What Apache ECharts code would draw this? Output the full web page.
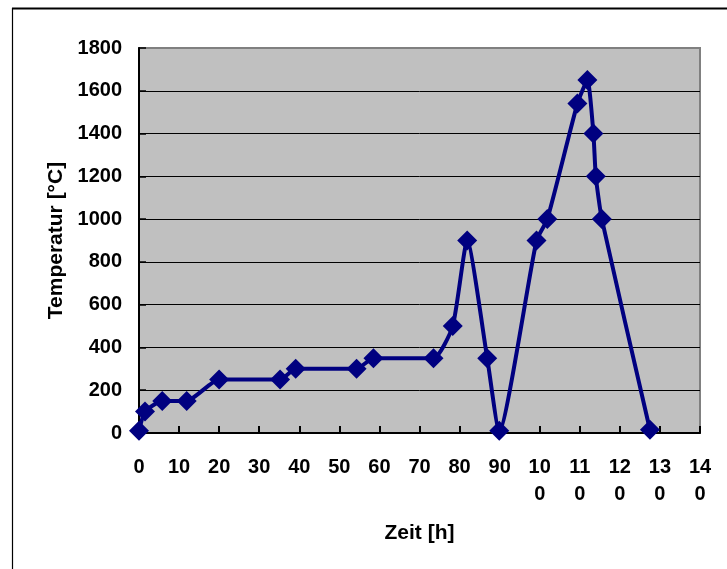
<!DOCTYPE html>
<html>
<head>
<meta charset="utf-8">
<script src="https://cdn.jsdelivr.net/npm/echarts@6/dist/echarts.min.js"></script>
<style>
html,body{margin:0;padding:0;background:#fff;}
#chart{width:727px;height:569px;}
</style>
</head>
<body>
<div id="chart"></div>
<script>
// Data
var timeHours = [0, 1.5, 5.8, 11.9, 20, 35.2, 39.1, 54.3, 58.5, 73.5, 78.3, 81.9, 86.9, 89.9, 99.2, 101.9, 109.4, 111.9, 113.4, 114, 115.5, 127.5];
var temperatures = [10, 100, 150, 150, 250, 250, 300, 300, 350, 350, 500, 900, 350, 10, 900, 1000, 1540, 1650, 1400, 1200, 1000, 15];
var xTitle = 'Zeit [h]';
var yTitle = 'Temperatur [°C]';

var points = timeHours.map(function (t, i) { return [t, temperatures[i]]; });

var font = "'Liberation Sans', Arial, sans-serif";
var chart = echarts.init(document.getElementById('chart'), null, {renderer: 'canvas'});
chart.setOption({
  animation: false,
  backgroundColor: '#ffffff',
  graphic: [
    {type: 'line', shape: {x1: 12.5, y1: 8, x2: 12.5, y2: 600}, style: {stroke: '#000', lineWidth: 1.2}, z: 100},
    {type: 'line', shape: {x1: 12, y1: 8.5, x2: 740, y2: 8.5}, style: {stroke: '#000', lineWidth: 2}, z: 100}
  ],
  grid: {
    left: 139, top: 48, width: 561, height: 385,
    show: true, backgroundColor: '#C0C0C0', borderColor: '#808080', borderWidth: 2
  },
  xAxis: {
    type: 'value', min: 0, max: 140, interval: 10,
    name: xTitle, nameLocation: 'middle', nameGap: 90,
    nameTextStyle: {fontFamily: font, fontSize: 21, fontWeight: 'bold', color: '#000'},
    axisLine: {show: true, onZero: false, lineStyle: {color: '#000', width: 2}},
    axisTick: {show: true, inside: true, length: 7, lineStyle: {color: '#000', width: 2}},
    splitLine: {show: false},
    axisLabel: {
      fontFamily: font, fontSize: 20, fontWeight: 'bold', color: '#000', margin: 21, lineHeight: 27,
      formatter: function (v) { var s = String(v); return s.length > 2 ? s.slice(0, 2) + '\n' + s.slice(2) : s; }
    }
  },
  yAxis: {
    type: 'value', min: 0, max: 1800, interval: 200,
    name: yTitle, nameLocation: 'middle', nameGap: 72,
    nameTextStyle: {fontFamily: font, fontSize: 21, fontWeight: 'bold', color: '#000'},
    axisLine: {show: true, onZero: false, lineStyle: {color: '#000', width: 2}},
    axisTick: {show: true, inside: true, length: 7, lineStyle: {color: '#000', width: 1.5}},
    splitLine: {show: true, showMaxLine: false, lineStyle: {color: '#000', width: 1}},
    axisLabel: {
      fontFamily: font, fontSize: 20, fontWeight: 'bold', color: '#000', margin: 17,
      formatter: function (v) { return String(v); }
    }
  },
  series: [{
    type: 'line',
    data: points,
    smooth: 0.18,
    symbol: 'diamond',
    symbolSize: 20,
    lineStyle: {color: '#000080', width: 4},
    itemStyle: {color: '#000080', borderColor: '#000080', borderWidth: 0},
    clip: false
  }]
});
</script>
</body>
</html>
